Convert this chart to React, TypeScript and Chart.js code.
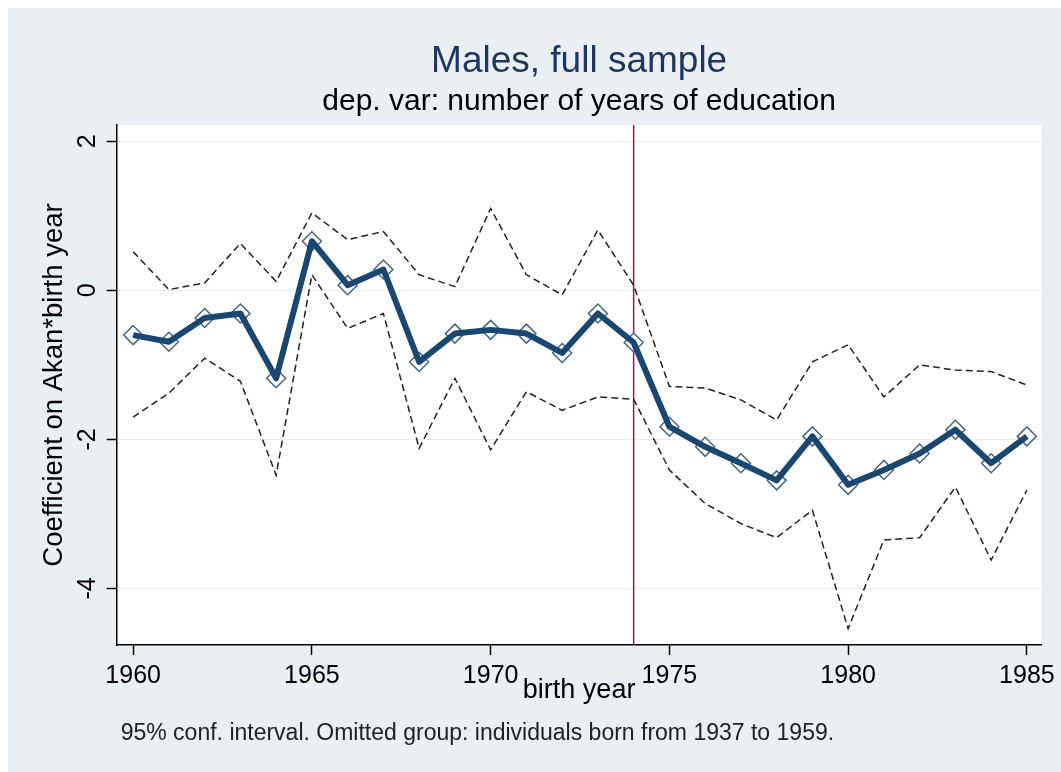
import { useEffect, useRef } from 'react';
import { Chart, registerables } from 'chart.js';

Chart.register(...registerables);

// ---- data ----
const years = [1960, 1961, 1962, 1963, 1964, 1965, 1966, 1967, 1968, 1969, 1970, 1971, 1972,
  1973, 1974, 1975, 1976, 1977, 1978, 1979, 1980, 1981, 1982, 1983, 1984, 1985];
const coefficient = [-0.60, -0.69, -0.37, -0.31, -1.18, 0.66, 0.07, 0.28, -0.96, -0.58, -0.53, -0.58, -0.84,
  -0.31, -0.70, -1.83, -2.10, -2.32, -2.55, -1.96, -2.61, -2.41, -2.19, -1.87, -2.32, -1.96];
const upperCI = [0.52, 0.01, 0.10, 0.63, 0.12, 1.04, 0.68, 0.79, 0.21, 0.05, 1.10, 0.21, -0.06,
  0.81, 0.07, -1.29, -1.31, -1.47, -1.74, -0.96, -0.73, -1.43, -1.00, -1.07, -1.09, -1.27];
const lowerCI = [-1.70, -1.38, -0.91, -1.22, -2.48, 0.21, -0.51, -0.31, -2.12, -1.18, -2.14, -1.36, -1.61,
  -1.43, -1.46, -2.41, -2.86, -3.13, -3.32, -2.95, -4.54, -3.35, -3.32, -2.64, -3.62, -2.68];
const xTicks = [1960, 1965, 1970, 1975, 1980, 1985];
const yTicks = [-4, -2, 0, 2];
const xMin = 1959.54;
const xMax = 1985.41;
const yMin = -4.76;
const yMax = 2.22;
const cutoffYear = 1974;

const titleText = 'Males, full sample';
const subtitleText = 'dep. var: number of years of education';
const xTitle = 'birth year';
const yTitle = 'Coefficient on Akan*birth year';
const noteText = '95% conf. interval. Omitted group: individuals born from 1937 to 1959.';

const FAMILY = "'Liberation Sans', Arial, sans-serif";
const BG = '#e9eff2';

const pts = (vals: number[]) => years.map((x, i) => ({ x, y: vals[i] }));

export default function App() {
  const ref = useRef<HTMLCanvasElement>(null);

  useEffect(() => {
    const bgPlugin = {
      id: 'bgPlugin',
      beforeDraw(chart: any) {
        const { ctx, width, height, chartArea } = chart;
        ctx.save();
        ctx.fillStyle = BG;
        ctx.fillRect(0, 0, width, height);
        ctx.fillStyle = '#ffffff';
        ctx.fillRect(chartArea.left, chartArea.top, chartArea.right - chartArea.left, chartArea.bottom - chartArea.top);
        ctx.restore();
      },
    };
    const cutoffPlugin = {
      id: 'cutoffPlugin',
      beforeDatasetsDraw(chart: any) {
        const { ctx, chartArea } = chart;
        const x = chart.scales.x.getPixelForValue(cutoffYear);
        ctx.save();
        ctx.strokeStyle = '#a0174f';
        ctx.lineWidth = 1.5;
        ctx.beginPath();
        ctx.moveTo(x, chartArea.top);
        ctx.lineTo(x, chartArea.bottom);
        ctx.stroke();
        ctx.restore();
      },
    };
    const notePlugin = {
      id: 'notePlugin',
      afterDraw(chart: any) {
        const { ctx, chartArea, height } = chart;
        ctx.save();
        ctx.font = `23px ${FAMILY}`;
        ctx.fillStyle = '#222222';
        ctx.textBaseline = 'alphabetic';
        ctx.textAlign = 'left';
        ctx.fillText(noteText, chartArea.left + 4, height - 32);
        ctx.restore();
      },
    };

    const chart = new Chart(ref.current as HTMLCanvasElement, {
      type: 'scatter',
      data: {
        datasets: [
          {
            label: 'coef',
            data: pts(coefficient),
            showLine: true,
            borderColor: '#1a476f',
            borderWidth: 6,
            borderJoinStyle: 'round',
            pointRadius: 0,
            pointHoverRadius: 0,
            order: 0,
          },
          {
            label: 'markers',
            data: pts(coefficient),
            showLine: false,
            pointStyle: 'rectRot',
            pointRadius: 9.5,
            pointHoverRadius: 9.5,
            pointBackgroundColor: '#ffffff',
            pointBorderColor: '#46657f',
            pointBorderWidth: 1.5,
            order: 1,
          },
          {
            label: 'upper',
            data: pts(upperCI),
            showLine: true,
            borderColor: '#222222',
            borderWidth: 1.5,
            borderDash: [7, 4],
            pointRadius: 0,
            pointHoverRadius: 0,
            order: 2,
          },
          {
            label: 'lower',
            data: pts(lowerCI),
            showLine: true,
            borderColor: '#222222',
            borderWidth: 1.5,
            borderDash: [7, 4],
            pointRadius: 0,
            pointHoverRadius: 0,
            order: 2,
          },
        ],
      } as any,
      options: {
        responsive: false,
        animation: false,
        events: [],
        layout: { padding: { top: 0, left: 0, right: 18, bottom: 65.3 } },
        plugins: {
          legend: { display: false },
          tooltip: { enabled: false },
          title: {
            display: true,
            fullSize: false,
            text: titleText,
            color: '#1e3660',
            font: { size: 37, family: FAMILY, weight: 'normal' },
            padding: { top: 31.3, bottom: 0 },
          },
          subtitle: {
            display: true,
            fullSize: false,
            text: subtitleText,
            color: '#000000',
            font: { size: 30, family: FAMILY, weight: 'normal' },
            padding: { top: 0, bottom: 5.3 },
          },
        },
        scales: {
          x: {
            type: 'linear',
            min: xMin,
            max: xMax,
            afterBuildTicks: (s: any) => { s.ticks = xTicks.map((v) => ({ value: v })); },
            afterFit: (s: any) => { s.height = 61.7; },
            ticks: {
              font: { size: 25, family: FAMILY },
              color: '#000000',
              padding: 6,
              maxRotation: 0,
              autoSkip: false,
              callback: (v: any) => String(v),
            },
            grid: { drawOnChartArea: false, tickLength: 10, tickColor: '#000000', tickWidth: 1.5 },
            border: { color: '#000000', width: 1.5 },
            title: {
              display: true,
              text: xTitle,
              color: '#000000',
              font: { size: 27, family: FAMILY },
              padding: { top: 0, bottom: 0 },
            },
          },
          y: {
            type: 'linear',
            min: yMin,
            max: yMax,
            afterBuildTicks: (s: any) => { s.ticks = yTicks.map((v) => ({ value: v })); },
            afterFit: (s: any) => { s.width = 108.7; },
            ticks: {
              font: { size: 25, family: FAMILY },
              color: '#000000',
              padding: 7.5,
              minRotation: 90,
              maxRotation: 90,
              crossAlign: 'center',
              autoSkip: false,
              callback: (v: any) => String(v),
            },
            grid: { color: '#e6eaec', lineWidth: 1, tickLength: 10, tickColor: '#000000', tickWidth: 1.5 },
            border: { color: '#000000', width: 1.5 },
            title: {
              display: true,
              text: yTitle,
              color: '#000000',
              font: { size: 27.5, family: FAMILY },
              padding: { top: 30, bottom: 0 },
            },
          },
        },
      } as any,
      plugins: [bgPlugin, cutoffPlugin, notePlugin],
    });
    return () => chart.destroy();
  }, []);

  return (
    <div style={{ position: 'absolute', left: 8, top: 8, width: 1053, height: 764 }}>
      <canvas ref={ref} width={1053} height={764} style={{ display: 'block', width: 1053, height: 764 }} />
    </div>
  );
}
